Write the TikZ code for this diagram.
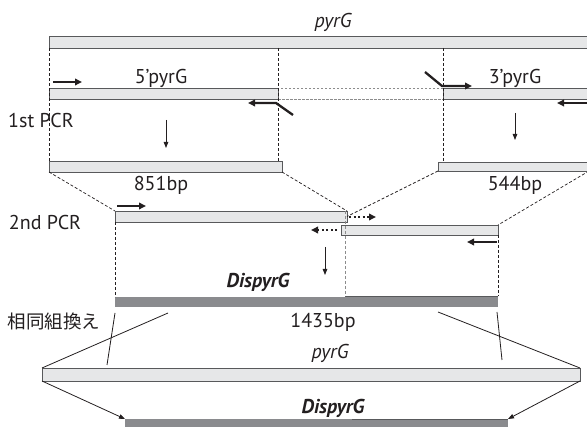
\documentclass[tikz,border=0pt]{standalone}
\usepackage{fontspec}
\setmainfont{PT Sans}
\setsansfont{PT Sans}
\newfontfamily\jpfont{Noto Sans CJK JP}
\usepackage{tikz}
\usetikzlibrary{arrows.meta,positioning,calc}
\definecolor{Ink}{HTML}{231F20}
\definecolor{BarLight}{HTML}{E6E7E8}
\definecolor{BarEdge}{HTML}{58595B}
\definecolor{BarDark}{HTML}{8A8B8E}
\definecolor{GuideGray}{HTML}{8C8C8C}
\newcommand{\lblsize}{\fontsize{20}{23}\selectfont}
\newcommand{\jpsize}{\fontsize{18.5}{21}\selectfont}

\begin{document}
\begin{tikzpicture}[x=1pt,y=-1pt,
  lightbar/.style={rectangle,draw=BarEdge,fill=BarLight,line width=0.9pt,inner sep=0pt,outer sep=0pt,anchor=north west},
  darkbar/.style={rectangle,draw=none,fill=BarDark,inner sep=0pt,outer sep=0pt,anchor=north west},
  gapbox/.style={rectangle,draw=GuideGray,dash pattern=on 2.5pt off 1.5pt,line width=0.7pt,inner sep=0pt,outer sep=0pt,anchor=north west},
  guide/.style={Ink,dash pattern=on 3pt off 2pt,line width=0.7pt},
  primer/.style={-{Triangle[length=7pt,width=6.5pt]},Ink,line width=2.3pt},
  dotprimer/.style={-{Triangle[length=7pt,width=6.5pt]},Ink,line width=2.3pt,dash pattern=on 2pt off 2.5pt},
  downarrow/.style={-{Triangle[length=6pt,width=4.5pt]},Ink,line width=0.8pt},
  thinline/.style={Ink,line width=0.8pt},
  lbl/.style={font=\lblsize,text=Ink,inner sep=0pt,anchor=base}]
\useasboundingbox (0,0) rectangle (587,427);
\node[lightbar,minimum width=540pt,minimum height=12pt] (pyrgtop) at (49,36) {};
\node[lbl,font=\lblsize\itshape] (tpyrgtop) at (333,28) {pyrG};
\node[gapbox,minimum width=165pt,minimum height=11pt] (gap) at (278,88) {};
\node[lightbar,minimum width=229pt,minimum height=11pt] (f5) at (49,88) {};
\node[lightbar,minimum width=146pt,minimum height=11pt] (f3) at (443,88) {};
\node[lbl] (tf5) at (161,84) {5’pyrG};
\node[lbl] (tf3) at (515,84) {3’pyrG};
\node[lbl] (tpcr1) at (41,128) {1st PCR};
\node[lightbar,minimum width=233pt,minimum height=11pt] (p851) at (49,161) {};
\node[lightbar,minimum width=151pt,minimum height=9pt] (p544) at (438,162) {};
\node[lbl] (t851) at (161,191) {851bp};
\node[lbl] (t544) at (515,191) {544bp};
\draw[guide] (f5.west |- pyrgtop.south) -- (f5.west |- p851.north);
\draw[guide] (f5.east |- pyrgtop.south) -- (f5.east |- p851.north);
\draw[guide] (f3.west |- pyrgtop.south) -- (f3.west |- p544.north);
\draw[primer] (53,82) -- (82,82);
\draw[primer] (293,115) -- (276,103) -- (248,103);
\draw[primer] (425,72) -- (442,86) -- (472,86);
\draw[primer] (589,103) -- (557,103);
\draw[downarrow] (166,120) -- (166,148);
\draw[downarrow] (515,113) -- (515,140);
\node[lightbar,minimum width=232pt,minimum height=11pt] (pcr5) at (115,211) {};
\node[lightbar,minimum width=157pt,minimum height=10pt] (pcr3) at (341,225) {};
\node[lbl] (tpcr2) at (45,230) {2nd PCR};
\draw[guide] (p851.south west) -- (pcr5.north west);
\draw[guide] (p851.south east) -- (pcr5.north east);
\draw[guide] (p544.south west) -- (pcr5.east);
\draw[guide] (p544.south east) -- (pcr3.north east);
\draw[primer] (117,206) -- (146,206);
\draw[dotprimer] (349,217) -- (376,217);
\draw[dotprimer] (337,230) -- (311,230);
\draw[primer] (497,242) -- (467,242);
\draw[downarrow] (325,247) -- (325,275);
\node[darkbar,minimum width=230pt,minimum height=10pt] (dis5) at (115,297) {};
\node[darkbar,minimum width=153pt,minimum height=11pt] (dis3) at (345,296) {};
\draw[BarEdge,line width=0.9pt] (dis3.north west) -- (dis3.north east);
\draw[guide] (pcr5.south west) -- (dis5.north west);
\draw[guide,GuideGray] (dis3.west |- pcr5.north) -- (dis3.north west);
\draw[guide] (pcr3.south east) -- (dis3.north east);
\node[lbl,font=\lblsize\bfseries\itshape] (tdis) at (258,288) {DispyrG};
\node[lbl] (t1435) at (323,328) {1435bp};
\node[font=\jpsize\jpfont,text=Ink,inner sep=0pt] (trec) at (54,321) {相同組換え};
\node[lightbar,minimum width=538pt,minimum height=13pt] (pyrgbot) at (42,368) {};
\node[lbl,font=\lblsize\itshape] (tpyrgbot) at (330,359) {pyrG};
\node[darkbar,minimum width=383pt,minimum height=14pt] (disbot) at (125,419) {};
\draw[BarEdge,line width=0.9pt] (352,419) -- (disbot.north east);
\node[lbl,font=\lblsize\bfseries\itshape] (tdisbot) at (333,414) {DispyrG};
\coordinate (xl) at (168,313);
\coordinate (xr) at (438,312);
\coordinate (cl) at (115,313);
\coordinate (cr) at (497,312);
\draw[thinline] (xl) -- (pyrgbot.north west);
\draw[thinline] (xr) -- (pyrgbot.north east);
\draw[thinline] (cl) -- (107,365);
\draw[thinline] (cr) -- (502,360);
\draw[downarrow] (pyrgbot.south west) -- (disbot.north west);
\draw[downarrow] (pyrgbot.south east) -- (disbot.north east);
\end{tikzpicture}
\end{document}
